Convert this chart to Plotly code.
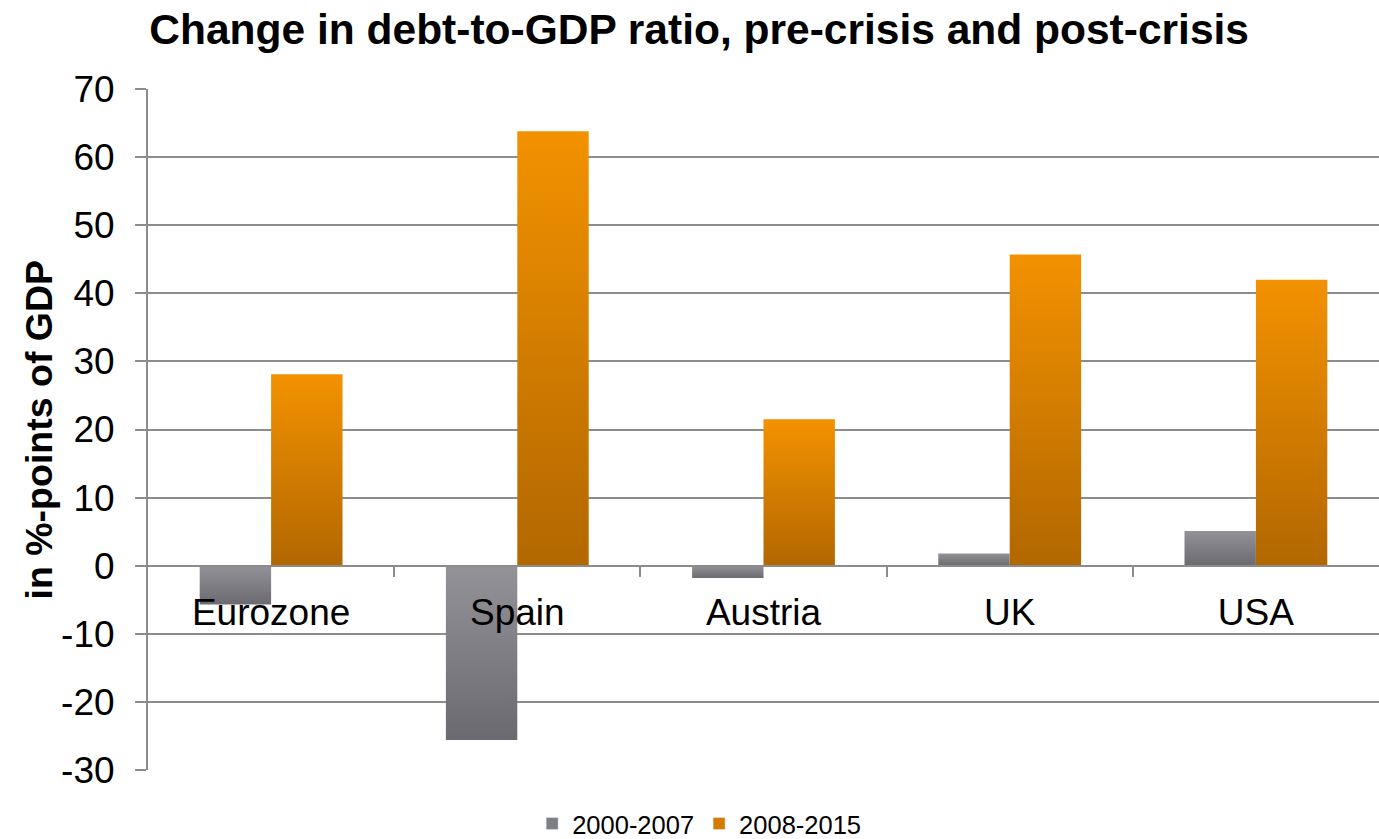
import plotly.graph_objects as go

# Debt-to-GDP change by economy, in %-points of GDP
categories = ["Eurozone", "Spain", "Austria", "UK", "USA"]
pre_crisis = [-5.7, -25.6, -1.8, 1.8, 5.1]      # 2000-2007
post_crisis = [28.1, 63.8, 21.5, 45.7, 42.0]    # 2008-2015
series_names = ["2000-2007", "2008-2015"]
y_ticks = [-30, -20, -10, 0, 10, 20, 30, 40, 50, 60, 70]
y_tick_labels = ["-30", "-20", "-10", "0", "10", "20", "30", "40", "50", "60", "70"]

FONT = "Liberation Sans, Arial, sans-serif"
GRID = "#8c8c8c"
BAR_W = 0.29
# (bottom colour, top colour) for each series' vertical gradient
GRADIENTS = [("#6b6a70", "#939298"), ("#b26700", "#f39200")]
LEGEND_COLORS = ["#7f7e84", "#d47c00"]

fig = go.Figure()

for s, (name, values) in enumerate(zip(series_names, [pre_crisis, post_crisis])):
    offset = s - 1  # first series left of the category centre, second right
    for i, v in enumerate(values):
        x0 = i + offset * BAR_W
        x1 = x0 + BAR_W
        fig.add_trace(go.Scatter(
            x=[x0, x1, x1, x0, x0],
            y=[0, 0, v, v, 0],
            mode="lines",
            fill="toself",
            line=dict(width=0),
            fillgradient=dict(
                type="vertical",
                colorscale=[[0, GRADIENTS[s][0]], [1, GRADIENTS[s][1]]],
            ),
            hoverinfo="skip",
            showlegend=False,
        ))
    # legend entry for the series
    fig.add_trace(go.Bar(
        x=[None], y=[None], name=name,
        marker=dict(color=LEGEND_COLORS[s]),
        showlegend=True,
    ))

fig.update_layout(
    width=1379, height=839,
    margin=dict(l=148, r=0, t=89, b=69, autoexpand=False),
    paper_bgcolor="white", plot_bgcolor="white",
    font=dict(family=FONT, color="#000000"),
    title=dict(
        text="<b>Change in debt-to-GDP ratio, pre-crisis and post-crisis</b>",
        font=dict(size=42.5, family=FONT, color="#000000"),
        xref="container", x=0.507, xanchor="center",
        yref="container", y=1 - 29 / 839, yanchor="middle",
    ),
    showlegend=True,
    legend=dict(
        orientation="h",
        xref="container", x=0.507, xanchor="center",
        yref="container", y=1 - 824 / 839, yanchor="middle",
        font=dict(size=25.5, family=FONT, color="#000000"),
        itemwidth=30,
        tracegroupgap=0,
    ),
    xaxis=dict(
        range=[-0.5, 4.5],
        anchor="free", position=0.3,
        tickmode="array", tickvals=list(range(len(categories))), ticktext=categories,
        ticks="", showgrid=False, zeroline=False,
        showline=True, linecolor=GRID, linewidth=2,
        tickfont=dict(size=37, family=FONT, color="#000000"),
        ticklabelstandoff=14,
        minor=dict(
            tickmode="array",
            tickvals=[i + 0.5 for i in range(len(categories) - 1)],
            ticks="outside", ticklen=10, tickcolor=GRID, tickwidth=2,
            showgrid=False,
        ),
        fixedrange=True,
    ),
    yaxis=dict(
        range=[-30, 70],
        tickmode="array", tickvals=y_ticks, ticktext=y_tick_labels,
        ticks="outside", ticklen=11, tickcolor=GRID, tickwidth=2,
        showgrid=True, gridcolor=GRID, gridwidth=2,
        zeroline=False,
        showline=True, linecolor=GRID, linewidth=2,
        tickfont=dict(size=37, family=FONT, color="#000000"),
        ticklabelstandoff=13,
        fixedrange=True,
    ),
    annotations=[dict(
        text="<b>in %-points of GDP</b>",
        textangle=-90,
        xref="paper", x=(38 - 148) / 1231, xanchor="center",
        yref="paper", y=0.5, yanchor="middle",
        showarrow=False,
        font=dict(size=37.5, family=FONT, color="#000000"),
    )],
)

fig.write_html("out.html")
